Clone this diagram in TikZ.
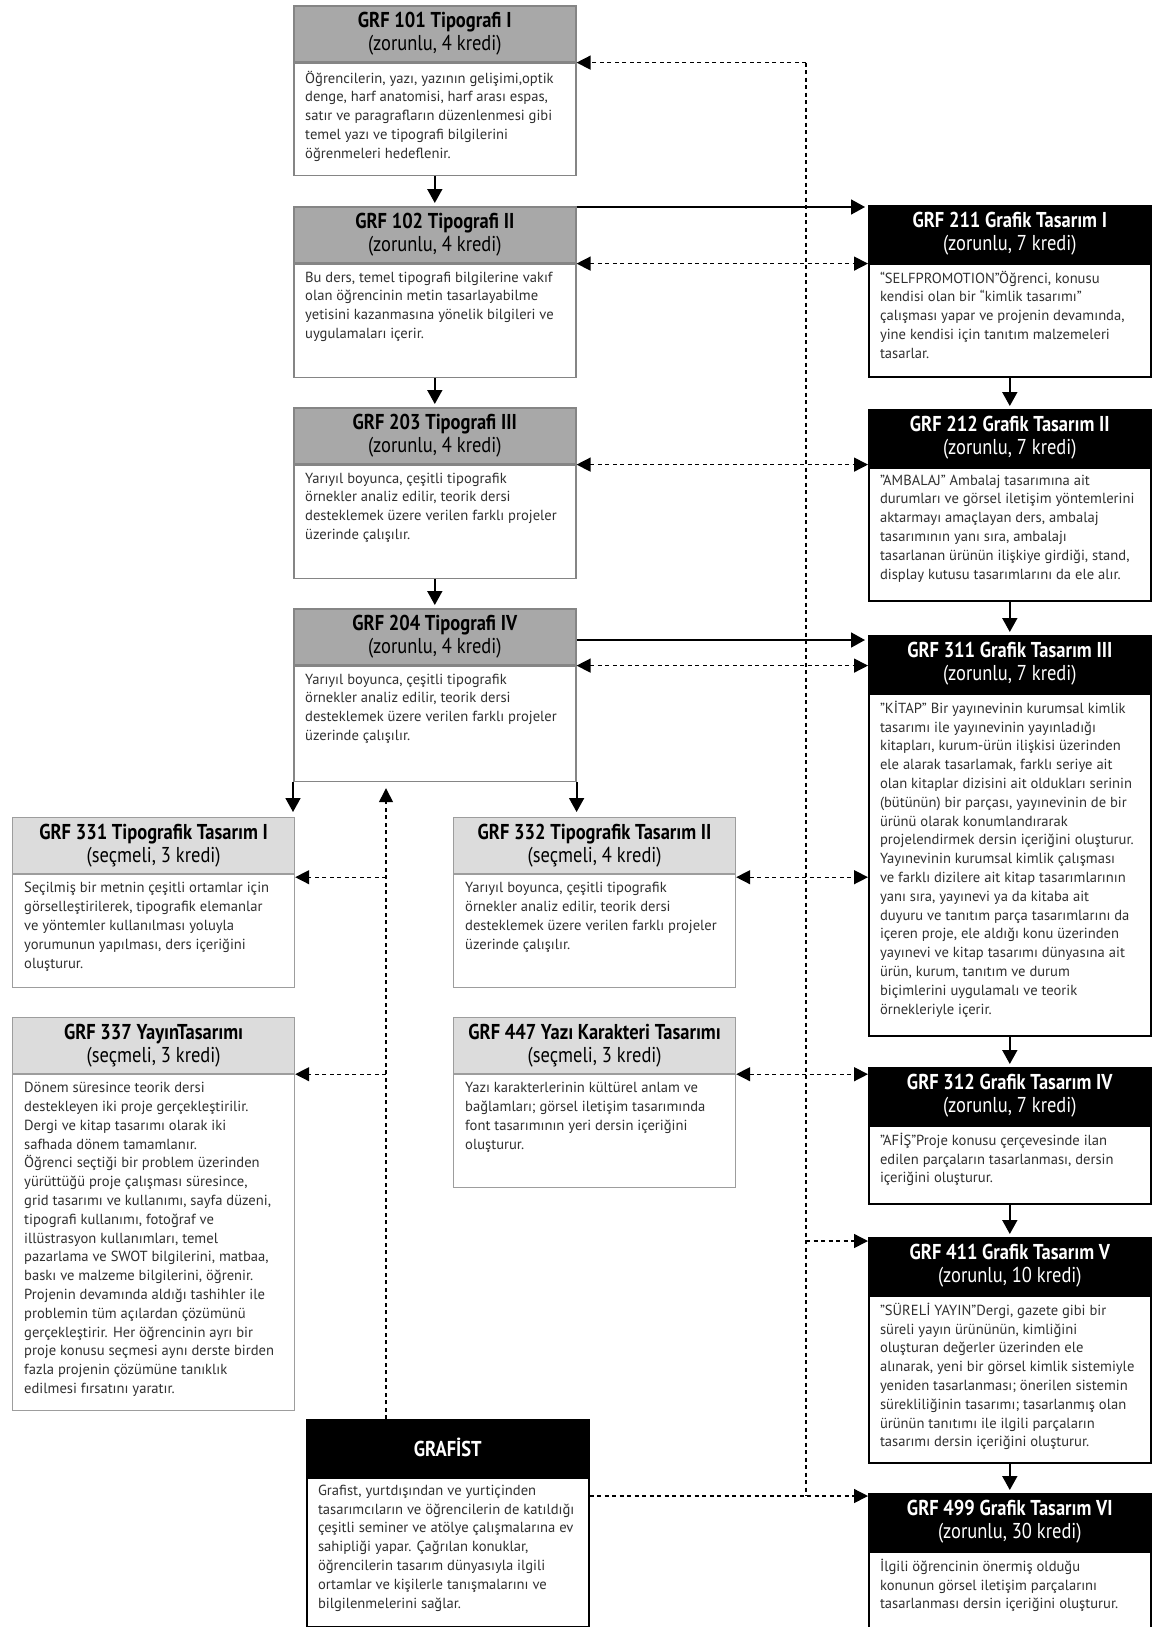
\documentclass[tikz,border=0pt]{standalone}
\usepackage{fontspec}
\setmainfont{PT Sans}
\newfontfamily\dar[FakeStretch=0.86]{PT Sans}
\usetikzlibrary{arrows.meta,positioning}

\definecolor{tipogri}{HTML}{A8A8A8}
\definecolor{secgri}{HTML}{DCDCDC}
\definecolor{cerceve}{HTML}{858585}
\definecolor{yazi}{HTML}{303030}

\newcommand{\ders}[2]{{\bfseries #1}\\#2}

\begin{document}
\begin{tikzpicture}[x=1pt,y=-1pt,
    baslik/.style={anchor=north west, minimum width=282pt, minimum height=56pt, inner sep=0pt,
      align=center, line width=1.6pt, font=\dar\fontsize{21.5}{23.5}\selectfont},
    tipobas/.style={baslik, fill=tipogri, draw=cerceve},
    grafbas/.style={baslik, fill=black, draw=black, text=white},
    secbas/.style={baslik, fill=secgri, draw=cerceve!80, line width=1.2pt},
    govde/.style={anchor=north, minimum width=282pt, inner sep=0pt, fill=white, line width=1.6pt},
    tipogovde/.style={govde, draw=cerceve},
    grafgovde/.style={govde, draw=black, line width=2pt},
    secgovde/.style={govde, draw=cerceve!80, line width=1.2pt},
    metin/.style={anchor=north west, align=left, inner sep=0pt, text=yazi,
      font=\fontsize{14.6}{18.8}\selectfont},
    ok/.style={line width=1.8pt, -{Triangle[length=14pt,width=15pt]}, shorten >=3pt},
    kesik/.style={line width=1.4pt, dash pattern=on 4pt off 3.5pt},
    kesikok/.style={kesik, -{Triangle[length=14pt,width=14pt]}},
    ciftok/.style={kesik, {Triangle[length=14pt,width=14pt]}-{Triangle[length=14pt,width=14pt]}}]
  \useasboundingbox (0,0) rectangle (1154,1627);

  % tipografi
  \node[tipobas] (h101) at (293,5) {\ders{GRF 101 Tipografi I}{(zorunlu, 4 kredi)}};
  \node[tipogovde, minimum height=112pt] (b101) at (h101.south) {};
  \node[metin] (t101) at ([xshift=12pt,yshift=-8pt]b101.north west) {Öğrencilerin, yazı, yazının gelişimi,optik\\denge, harf anatomisi, harf arası espas,\\satır ve paragrafların düzenlenmesi gibi\\temel yazı ve tipografi bilgilerini\\öğrenmeleri hedeflenir.};

  \node[tipobas] (h102) at (293,206) {\ders{GRF 102 Tipografi II}{(zorunlu, 4 kredi)}};
  \node[tipogovde, minimum height=113pt] (b102) at (h102.south) {};
  \node[metin] (t102) at ([xshift=12pt,yshift=-8pt]b102.north west) {Bu ders, temel tipografi bilgilerine vakıf\\olan öğrencinin metin tasarlayabilme\\yetisini kazanmasına yönelik bilgileri ve\\uygulamaları içerir.};

  \node[tipobas] (h203) at (293,407) {\ders{GRF 203 Tipografi III}{(zorunlu, 4 kredi)}};
  \node[tipogovde, minimum height=113pt] (b203) at (h203.south) {};
  \node[metin] (t203) at ([xshift=12pt,yshift=-8pt]b203.north west) {Yarıyıl boyunca, çeşitli tipografik\\örnekler analiz edilir, teorik dersi\\desteklemek üzere verilen farklı projeler\\üzerinde çalışılır.};

  \node[tipobas] (h204) at (293,608) {\ders{GRF 204 Tipografi IV}{(zorunlu, 4 kredi)}};
  \node[tipogovde, minimum height=115pt] (b204) at (h204.south) {};
  \node[metin] (t204) at ([xshift=12pt,yshift=-8pt]b204.north west) {Yarıyıl boyunca, çeşitli tipografik\\örnekler analiz edilir, teorik dersi\\desteklemek üzere verilen farklı projeler\\üzerinde çalışılır.};

  % grafik tasarim
  \node[grafbas] (h211) at (868,205) {\ders{GRF 211 Grafik Tasarım I}{(zorunlu, 7 kredi)}};
  \node[grafgovde, minimum height=113pt] (b211) at (h211.south) {};
  \node[metin] (t211) at ([xshift=12pt,yshift=-8pt]b211.north west) {“SELFPROMOTION”Öğrenci, konusu\\kendisi olan bir “kimlik tasarımı”\\çalışması yapar ve projenin devamında,\\yine kendisi için tanıtım malzemeleri\\tasarlar.};

  \node[grafbas] (h212) at (868,409) {\ders{GRF 212 Grafik Tasarım II}{(zorunlu, 7 kredi)}};
  \node[grafgovde, minimum height=133pt] (b212) at (h212.south) {};
  \node[metin] (t212) at ([xshift=12pt,yshift=-8pt]b212.north west) {"AMBALAJ" Ambalaj tasarımına ait\\durumları ve görsel iletişim yöntemlerini\\aktarmayı amaçlayan ders, ambalaj\\tasarımının yanı sıra, ambalajı\\tasarlanan ürünün ilişkiye girdiği, stand,\\display kutusu tasarımlarını da ele alır.};

  \node[grafbas] (h311) at (868,635) {\ders{GRF 311 Grafik Tasarım III}{(zorunlu, 7 kredi)}};
  \node[grafgovde, minimum height=342pt] (b311) at (h311.south) {};
  \node[metin] (t311) at ([xshift=12pt,yshift=-8pt]b311.north west) {"KİTAP" Bir yayınevinin kurumsal kimlik\\tasarımı ile yayınevinin yayınladığı\\kitapları, kurum-ürün ilişkisi üzerinden\\ele alarak tasarlamak, farklı seriye ait\\olan kitaplar dizisini ait oldukları serinin\\(bütünün) bir parçası, yayınevinin de bir\\ürünü olarak konumlandırarak\\projelendirmek dersin içeriğini oluşturur.\\Yayınevinin kurumsal kimlik çalışması\\ve farklı dizilere ait kitap tasarımlarının\\yanı sıra, yayınevi ya da kitaba ait\\duyuru ve tanıtım parça tasarımlarını da\\içeren proje, ele aldığı konu üzerinden\\yayınevi ve kitap tasarımı dünyasına ait\\ürün, kurum, tanıtım ve durum\\biçimlerini uygulamalı ve teorik\\örnekleriyle içerir.};

  \node[grafbas] (h312) at (868,1067) {\ders{GRF 312 Grafik Tasarım IV}{(zorunlu, 7 kredi)}};
  \node[grafgovde, minimum height=78pt] (b312) at (h312.south) {};
  \node[metin] (t312) at ([xshift=12pt,yshift=-8pt]b312.north west) {"AFİŞ"Proje konusu çerçevesinde ilan\\edilen parçaların tasarlanması, dersin\\içeriğini oluşturur.};

  \node[grafbas] (h411) at (868,1237) {\ders{GRF 411 Grafik Tasarım V}{(zorunlu, 10 kredi)}};
  \node[grafgovde, minimum height=167pt] (b411) at (h411.south) {};
  \node[metin] (t411) at ([xshift=12pt,yshift=-8pt]b411.north west) {"SÜRELİ YAYIN"Dergi, gazete gibi bir\\süreli yayın ürününün, kimliğini\\oluşturan değerler üzerinden ele\\alınarak, yeni bir görsel kimlik sistemiyle\\yeniden tasarlanması; önerilen sistemin\\sürekliliğinin tasarımı; tasarlanmış olan\\ürünün tanıtımı ile ilgili parçaların\\tasarımı dersin içeriğini oluşturur.};

  \node[grafbas] (h499) at (868,1493) {\ders{GRF 499 Grafik Tasarım VI}{(zorunlu, 30 kredi)}};
  \node[grafgovde, minimum height=76pt] (b499) at (h499.south) {};
  \node[metin] (t499) at ([xshift=12pt,yshift=-8pt]b499.north west) {İlgili öğrencinin önermiş olduğu\\konunun görsel iletişim parçalarını\\tasarlanması dersin içeriğini oluşturur.};

  % secmeli dersler
  \node[secbas] (h331) at (12,817) {\ders{GRF 331 Tipografik Tasarım I}{(seçmeli, 3 kredi)}};
  \node[secgovde, minimum height=113pt] (b331) at (h331.south) {};
  \node[metin] (t331) at ([xshift=12pt,yshift=-8pt]b331.north west) {Seçilmiş bir metnin çeşitli ortamlar için\\görselleştirilerek, tipografik elemanlar\\ve yöntemler kullanılması yoluyla\\yorumunun yapılması, ders içeriğini\\oluşturur.};

  \node[secbas] (h337) at (12,1017) {\ders{GRF 337 YayınTasarımı}{(seçmeli, 3 kredi)}};
  \node[secgovde, minimum height=336pt] (b337) at (h337.south) {};
  \node[metin] (t337) at ([xshift=12pt,yshift=-8pt]b337.north west) {Dönem süresince teorik dersi\\destekleyen iki proje gerçekleştirilir.\\Dergi ve kitap tasarımı olarak iki\\safhada dönem tamamlanır.\\Öğrenci seçtiği bir problem üzerinden\\yürüttüğü proje çalışması süresince,\\grid tasarımı ve kullanımı, sayfa düzeni,\\tipografi kullanımı, fotoğraf ve\\illüstrasyon kullanımları, temel\\pazarlama ve SWOT bilgilerini, matbaa,\\baskı ve malzeme bilgilerini, öğrenir.\\Projenin devamında aldığı tashihler ile\\problemin tüm açılardan çözümünü\\gerçekleştirir. Her öğrencinin ayrı bir\\proje konusu seçmesi aynı derste birden\\fazla projenin çözümüne tanıklık\\edilmesi fırsatını yaratır.};

  \node[secbas] (h332) at (453,817) {\ders{GRF 332 Tipografik Tasarım II}{(seçmeli, 4 kredi)}};
  \node[secgovde, minimum height=113pt] (b332) at (h332.south) {};
  \node[metin] (t332) at ([xshift=12pt,yshift=-8pt]b332.north west) {Yarıyıl boyunca, çeşitli tipografik\\örnekler analiz edilir, teorik dersi\\desteklemek üzere verilen farklı projeler\\üzerinde çalışılır.};

  \node[secbas] (h447) at (453,1017) {\ders{GRF 447 Yazı Karakteri Tasarımı}{(seçmeli, 3 kredi)}};
  \node[secgovde, minimum height=113pt] (b447) at (h447.south) {};
  \node[metin] (t447) at ([xshift=12pt,yshift=-8pt]b447.north west) {Yazı karakterlerinin kültürel anlam ve\\bağlamları; görsel iletişim tasarımında\\font tasarımının yeri dersin içeriğini\\oluşturur.};

  % grafist
  \node[grafbas] (hG) at (306,1419) {\bfseries GRAFİST};
  \node[grafgovde, minimum height=149pt] (bG) at (hG.south) {};
  \node[metin] (tG) at ([xshift=12pt,yshift=-8pt]bG.north west) {Grafist, yurtdışından ve yurtiçinden\\tasarımcıların ve öğrencilerin de katıldığı\\çeşitli seminer ve atölye çalışmalarına ev\\sahipliği yapar. Çağrılan konuklar,\\öğrencilerin tasarım dünyasıyla ilgili\\ortamlar ve kişilerle tanışmalarını ve\\bilgilenmelerini sağlar.};

  % oklar
  \draw[ok] (b101.south) -- (h102.north);
  \draw[ok] (b102.south) -- (h203.north);
  \draw[ok] (b203.south) -- (h204.north);
  \draw[ok] (b211.south) -- (h212.north);
  \draw[ok] (b212.south) -- (h311.north);
  \draw[ok] (b311.south) -- (h312.north);
  \draw[ok] (b312.south) -- (h411.north);
  \draw[ok] (b411.south) -- (h499.north);
  \draw[ok] ([yshift=-2pt]h211.north west -| h102.east) -- ([yshift=-2pt]h211.north west);
  \draw[ok] ([yshift=-5pt]h311.north west -| h204.east) -- ([yshift=-5pt]h311.north west);
  \draw[ok, shorten >=5pt] (b204.south west) -- (b204.south west |- h331.north);
  \draw[ok, shorten >=5pt] (b204.south east) -- (b204.south east |- h332.north);

  \draw[ciftok] (h102.south east) -- (h102.south east -| h211.west);
  \draw[ciftok] (h203.south east) -- (h203.south east -| h212.west);
  \draw[ciftok] (h204.south east) -- (h204.south east -| h311.west);
  \draw[ciftok] ([yshift=-3pt]h332.south east) -- ([yshift=-3pt]h332.south east -| h311.west);
  \draw[ciftok] (h447.south east) -- (h447.south east -| h312.west);

  % grafist baglantilari
  \coordinate (hat) at (806,0);
  \coordinate (g411) at ([yshift=-4pt]h411.north west);
  \coordinate (g499) at ([yshift=-3pt]h499.north west);
  \coordinate (gup) at ([xshift=80pt]hG.north west);
  \draw[kesik] (hat |- h101.south east) -- (hat |- g499);
  \draw[kesikok] (hat |- h101.south east) -- (h101.south east);
  \draw[kesikok] (hat |- g411) -- (g411);
  \draw[kesikok] (hG.east |- g499) -- (g499);
  \draw[kesikok, shorten >=6pt] (gup) -- (gup |- b204.south);
  \draw[kesikok] ([yshift=-3pt]gup |- h331.south east) -- ([yshift=-3pt]h331.south east);
  \draw[kesikok] (gup |- h337.south east) -- (h337.south east);
\end{tikzpicture}
\end{document}
